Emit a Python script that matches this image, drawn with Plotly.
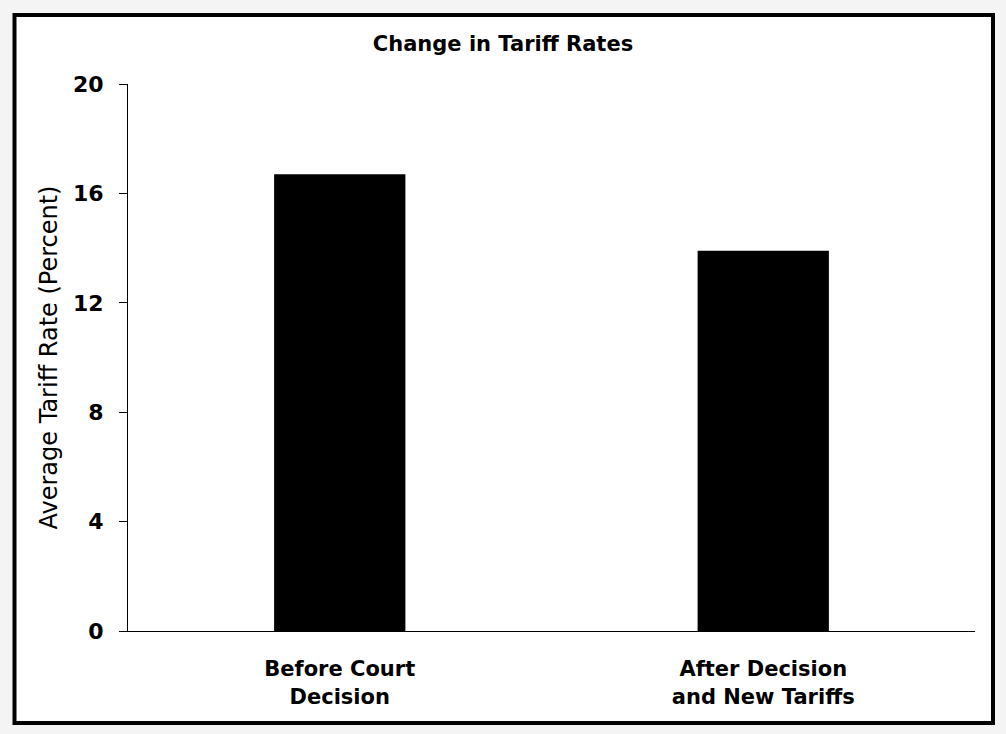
import plotly.graph_objects as go

categories = ["Before Court<br>Decision", "After Decision<br>and New Tariffs"]
values = [16.7, 13.9]
y_ticks = [0, 4, 8, 12, 16, 20]

W, H = 1006, 734
L, R, T, B = 128, 975, 84, 631

def px(x):
    return (x - L) / (R - L)

def py(y):
    return (B - y) / (B - T)

sans = "DejaVu Sans, Verdana, sans-serif"

fig = go.Figure(go.Bar(x=categories, y=values, marker=dict(color="black", line=dict(width=0)), width=0.31))

fig.update_layout(
    width=W, height=H,
    margin=dict(l=L, r=W - R, t=T, b=H - B, pad=0),
    paper_bgcolor="#f4f4f4",
    plot_bgcolor="white",
    showlegend=False,
    title=dict(text="Change in Tariff Rates", x=px(503), xref="paper", xanchor="center",
               y=1 - 44 / H, yref="container", yanchor="middle",
               font=dict(family=sans, size=21, color="black", weight="bold")),
    shapes=[dict(type="rect", xref="paper", yref="paper", x0=px(14.5), x1=px(993), y0=py(723), y1=py(15),
                 fillcolor="white", line=dict(color="black", width=4), layer="below")],
)

fig.update_xaxes(
    showline=True, linecolor="black", linewidth=1, ticks="", showgrid=False,
    tickfont=dict(family=sans, size=21, color="black", weight="bold"),
    ticklabelstandoff=19,
)
fig.update_yaxes(
    range=[0, 20], tickvals=y_ticks, showline=True, linecolor="black", linewidth=1,
    ticks="outside", ticklen=8, tickcolor="black", tickwidth=1, showgrid=False, zeroline=False,
    tickfont=dict(family=sans, size=22, color="black", weight="bold"),
    ticklabelstandoff=11,
    title=dict(text="Average Tariff Rate (Percent)", standoff=8,
               font=dict(family=sans, size=24, color="black")),
)

fig.write_html("out.html", config={"displayModeBar": False},
               post_script="document.body.style.margin='0';document.body.style.padding='0';")
